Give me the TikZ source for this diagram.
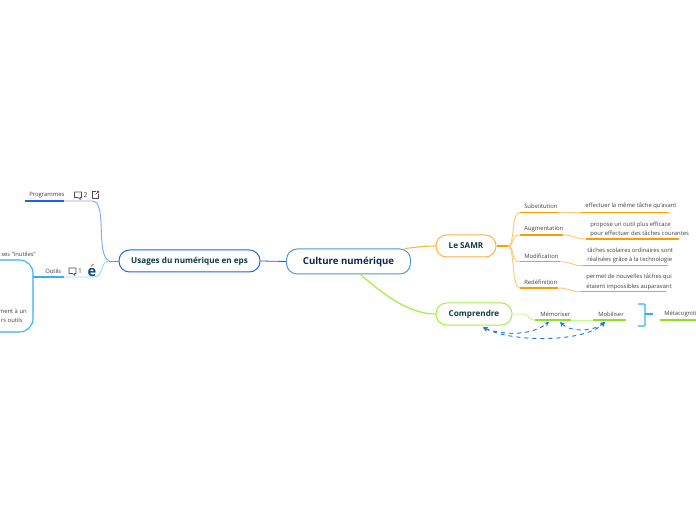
\documentclass[tikz,border=0pt]{standalone}
\usepackage{fontspec}
\setmainfont{Open Sans}
\usetikzlibrary{arrows.meta}
\definecolor{inkNavy}{HTML}{0F2250}
\definecolor{inkTeal}{HTML}{0E3A40}
\definecolor{cultureLine}{HTML}{4A98D8}
\definecolor{usagesLine}{HTML}{2060F0}
\definecolor{samrLine}{HTML}{FFB040}
\definecolor{samrBar}{HTML}{FF9C00}
\definecolor{samrSoft}{HTML}{FFC878}
\definecolor{compLine}{HTML}{A0F040}
\definecolor{compBar}{HTML}{8EE020}
\definecolor{compSoft}{HTML}{C4F890}
\definecolor{progSoft}{HTML}{80A8FF}
\definecolor{outilBar}{HTML}{30B0F0}
\definecolor{outilSoft}{HTML}{98D8FF}
\definecolor{linkBlue}{HTML}{1E78E0}
\begin{document}
\begin{tikzpicture}[x=0.75pt,y=-0.75pt,>=Stealth,
  mainbox/.style={draw,rounded corners=8pt,line width=0.75pt,inner sep=0pt,font=\fontsize{6.1}{8}\selectfont\bfseries,text=inkTeal},
  leaf/.style={inner sep=0pt,anchor=west,text=black!75,font=\fontsize{4.4}{7}\selectfont},
  detail/.style={inner sep=0pt,anchor=west,align=left,text=black!75,font=\fontsize{4.4}{7}\selectfont},
  bar/.style={line width=1.1pt},
  soft/.style={line width=0.7pt},
  icon/.style={draw=black!70,line width=0.45pt,line join=round},
  back/.style={linkBlue,line width=0.7pt,dashed,<->,>={Stealth[length=3.5pt,width=3.5pt]}}]
  \useasboundingbox (0,0) rectangle (696,520);
  % main topics
  \node[mainbox,draw=cultureLine,text=inkNavy,font=\fontsize{7.2}{9}\selectfont\bfseries,
        minimum width=93pt,minimum height=18.75pt] (culture) at (348.5,261.5) {Culture numérique};
  \node[mainbox,draw=usagesLine,minimum width=105.75pt,minimum height=16.5pt] (usages) at (189.5,261) {Usages du numérique en eps};
  \node[mainbox,draw=samrLine,minimum width=45pt,minimum height=16.5pt] (samr) at (466,246) {Le SAMR};
  \node[mainbox,draw=compLine,minimum width=57pt,minimum height=16.5pt] (comprendre) at (474,314) {Comprendre};
  \draw[usagesLine,line width=0.6pt] (culture.west) -- (usages.east);
  \draw[samrLine,line width=0.8pt] (culture.13.6) .. controls (412,248) and (422,246) .. (samr.west);
  \draw[compLine,line width=0.9pt] (culture.-47) .. controls (385,296) and (410,314) .. (comprendre.west);

  % le SAMR
  \coordinate (samrFork) at (508,246);
  \draw[samrBar,line width=0.8pt] (samr.east) -- (samrFork);
  \node[leaf] (subst) at (524,206) {Substitution};
  \node[leaf] (augm) at (524,229) {Augmentation};
  \node[leaf] (modif) at (524,256) {Modification};
  \node[leaf] (redef) at (524,282) {Redéfinition};
  \draw[samrBar,bar] (520,212.5) coordinate (substL) -- (558,212.5) coordinate (substR);
  \draw[samrBar,bar] (520,235) coordinate (augmL) -- (563,235) coordinate (augmR);
  \draw[samrBar,bar] (520,261.7) coordinate (modifL) -- (560,261.7) coordinate (modifR);
  \draw[samrBar,bar] (520,288) coordinate (redefL) -- (558,288) coordinate (redefR);
  \draw[samrSoft,soft] (samrFork) .. controls (515,246) and (511,212.5) .. (substL);
  \draw[samrSoft,soft] (samrFork) .. controls (515,246) and (510,235) .. (augmL);
  \draw[samrSoft,soft] (samrFork) .. controls (515,246) and (510,261.7) .. (modifL);
  \draw[samrSoft,soft] (samrFork) .. controls (515,246) and (511,288) .. (redefL);
  \node[detail] (substText) at (585,206) {effectuer la même tâche qu'avant};
  \node[detail] (augmText) at (590,229.5) {propose un outil plus efficace\\pour effectuer des tâches courantes};
  \node[detail] (modifText) at (587,255.5) {tâches scolaires ordinaires sont\\réalisées grâce à la technologie};
  \node[detail] (redefText) at (586,282) {permet de nouvelles tâches qui\\étaient impossibles auparavant};
  \draw[samrBar,bar] (581,212.7) coordinate (substA) -- (669,212.7);
  \draw[samrBar,bar] (586,239) coordinate (augmA) -- (679,239);
  \draw[samrBar,bar] (583,265.7) coordinate (modifA) -- (668,265.7);
  \draw[samrBar,bar] (581,291.7) coordinate (redefA) -- (666,291.7);
  \draw[samrSoft,soft] (substR) -- (substA);
  \draw[samrSoft,soft] (augmR) .. controls (575,235) and (574,239) .. (augmA);
  \draw[samrSoft,soft] (modifR) .. controls (572,261.7) and (571,265.7) .. (modifA);
  \draw[samrSoft,soft] (redefR) .. controls (570,288) and (569,291.7) .. (redefA);

  % comprendre
  \node[leaf] (memo) at (540,314) {Mémoriser};
  \node[leaf] (mobi) at (598,314) {Mobiliser};
  \node[leaf] (meta) at (664,314) {Métacogniti};
  \draw[compBar,bar] (535,320) coordinate (memoL) -- (571,320) coordinate (memoR);
  \draw[compBar,bar] (593,320) coordinate (mobiL) -- (626,320) coordinate (mobiR);
  \draw[compBar,bar] (660,320) coordinate (metaL) -- (696,320) coordinate (metaR);
  \draw[compSoft,soft] (comprendre.east) -- (523,314) .. controls (529,314) and (528,320) .. (memoL);
  \draw[compSoft,soft] (memoR) -- (mobiL);
  \draw[outilBar,line width=0.8pt,rounded corners=0.5pt] (638,304) -- (645,304) -- (645,326) -- (638,326);
  \draw[outilBar,line width=0.8pt] (645,314) coordinate (brace) -- (653,314);
  \coordinate (compTip) at (483,327.5);
  \coordinate (memoTipA) at (549,322);
  \coordinate (memoTipB) at (560,322);
  \coordinate (mobiTip) at (605,322);
  \draw[back] (compTip) .. controls (505,336) and (532,335) .. (memoTipA);
  \draw[back] (compTip) .. controls (515,343) and (585,342) .. (mobiTip);
  \draw[back] (memoTipB) .. controls (570,332) and (592,332) .. (mobiTip);

  % usages
  \coordinate (usagesFork) at (109,261);
  \draw[usagesLine!70,line width=0.6pt] (usages.west) -- (usagesFork);
  \node[leaf] (prog) at (29,195) {Programmes};
  \node[leaf] (outils) at (45,271) {Outils};
  \draw[usagesLine,bar] (25,201) coordinate (progL) -- (64,201) coordinate (progR);
  \draw[outilBar,bar] (33,277) coordinate (outilsL) -- (64,277) coordinate (outilsR);
  \draw[progSoft,soft] (progR) -- (92,201) .. controls (108,201) and (95,254) .. (usagesFork);
  \draw[outilSoft,soft] (outilsR) -- (94,277) .. controls (104,277) and (100,261) .. (usagesFork);
  \draw[outilBar,line width=0.8pt,rounded corners=10pt] (0,260) -- (33,260) -- (33,332) -- (0,332);
  \node[detail,anchor=east] (inutiles) at (36,254.5) {ses "inutiles"};
  \node[detail,anchor=east] (unOutil) at (27,311) {ment à un};
  \node[detail,anchor=east] (autres) at (23,320) {rs outils};

  % icons
  \draw[icon] (74.5,192) -- (81.5,192) -- (81.5,197.5) -- (80,197.5) -- (80.5,199.5) -- (78,197.5) -- (74.5,197.5) -- cycle;
  \node[detail,anchor=center,font=\fontsize{5}{6}\selectfont] (nbProg) at (85.5,195) {2};
  \draw[icon] (96,191.5) -- (92.5,191.5) -- (92.5,198) -- (98.5,198) -- (98.5,194.5);
  \draw[icon] (95.5,194.5) -- (98.5,191.5) (96.5,191.3) -- (98.7,191.3) -- (98.7,193.5);
  \draw[icon] (69,268) -- (76,268) -- (76,273.5) -- (74.5,273.5) -- (75,275.5) -- (72.5,273.5) -- (69,273.5) -- cycle;
  \node[detail,anchor=center,font=\fontsize{5}{6}\selectfont] (nbOutils) at (80,271) {1};
  \node[inner sep=0pt,text=linkBlue!60!black,font=\fontsize{11}{11}\selectfont\bfseries] (ent) at (92,272) {e};
  \draw[orange,line width=0.7pt] (91,266.5) -- (93.5,264);
\end{tikzpicture}
\end{document}
